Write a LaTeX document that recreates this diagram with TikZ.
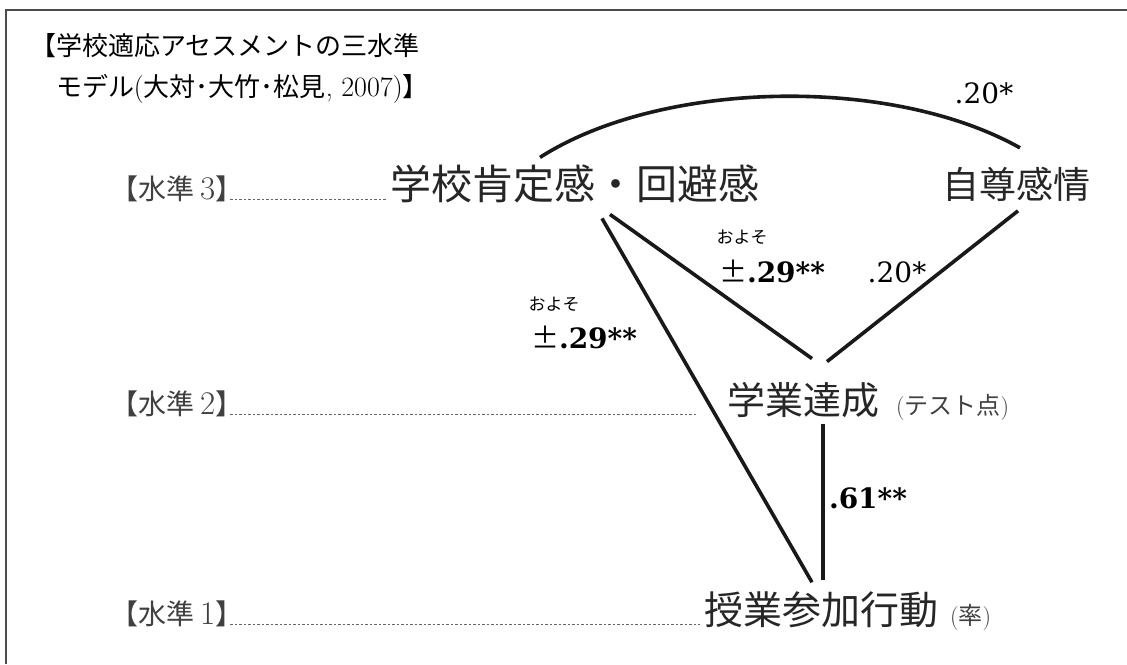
\documentclass[tikz,border=0pt]{standalone}
\usepackage{fontspec}
\newfontfamily\cjk{Noto Sans CJK JP}
\newfontfamily\numfont{DejaVu Serif}
\usetikzlibrary{calc}
\newcommand{\fsz}[1]{\fontsize{#1}{#1}\selectfont}
\begin{document}
\begin{tikzpicture}[x=1pt,y=-1pt,
  lbl/.style={inner sep=0pt, outer sep=0pt},
  mainlbl/.style={lbl, anchor=base, text=black!85},
  levellbl/.style={lbl, anchor=base, font=\cjk\fsz{28}, text=black!75},
  sublbl/.style={lbl, anchor=base west, font=\cjk\fsz{24}, text=black!75},
  coef/.style={lbl, anchor=base, font=\numfont\bfseries\fsz{28}},
  coefreg/.style={lbl, anchor=base, font=\numfont\fsz{28}},
  approx/.style={lbl, font=\cjk\fsz{17}},
  conn/.style={line width=3.6pt, black!90},
  guide/.style={line width=0.9pt, black!60, dash pattern=on 2.5pt off 2pt},
  frameline/.style={line width=2pt, black!70}
]
\useasboundingbox (0,0) rectangle (1127,664);
\fill[white] (0,0) rectangle (1127,664);
\draw[frameline] (6,664) -- (6,10) -- (1127,10);

% title
\node[lbl, anchor=west, align=left, font=\cjk\fontsize{26}{41}\selectfont] (title) at (30,68.5)
  {【学校適応アセスメントの三水準\\\hspace*{1em}モデル{\rmfamily\fontsize{28}{41}\selectfont(}大対･大竹･松見{\rmfamily\fontsize{28}{41}\selectfont, 2007)}】};

% main labels
\node[mainlbl, font=\cjk\fsz{41}] (sch) at (575,199) {学校肯定感・回避感};
\node[mainlbl, font=\cjk\fsz{37}] (se) at (1016,198) {自尊感情};
\node[mainlbl, font=\cjk\fsz{38}] (ach) at (803,414) {学業達成};
\node[sublbl] (achsub) at ([xshift=17pt]ach.base east) {{\rmfamily(}テスト点{\rmfamily)}};
\node[mainlbl, font=\cjk\fsz{39}] (part) at (821,624) {授業参加行動};
\node[sublbl] (partsub) at ([xshift=12pt]part.base east) {{\rmfamily(}率{\rmfamily)}};

% level labels
\node[levellbl] (lv3) at (177,199) {【水準{\rmfamily\fsz{33}\,3}】};
\node[levellbl] (lv2) at (177,414) {【水準{\rmfamily\fsz{33}\,2}】};
\node[levellbl] (lv1) at (177,624) {【水準{\rmfamily\fsz{33}\,1}】};

% guide lines
\draw[guide] ([xshift=-13pt]lv3.base east) -- ([xshift=-3pt]sch.base west);
\draw[guide] ([xshift=-13pt]lv2.base east) -- ([xshift=-30pt]ach.base west);
\draw[guide] ([xshift=-13pt]lv1.base east) -- ([xshift=-4pt]part.base west);

% connectors
\draw[conn] ($(sch.center)+(-35,-26)$) .. controls ($(sch.center)+(85,-103)$) and ($(se.center)+(-126,-109)$) .. ($(se.center)+(4,-36)$);
\draw[conn] ($(sch.center)+(35,31)$) -- ($(ach.center)+(9,-41)$);
\draw[conn] ($(sch.center)+(27,35)$) -- ($(part.center)+(-9,-27)$);
\draw[conn] ($(se.center)+(2,27)$) -- ($(ach.center)+(24,-38)$);
\draw[conn] ($(ach.center)+(20,24)$) -- ($(part.center)+(2,-29)$);

% coefficients
\node[coefreg] (c1) at (984,103) {.20*};
\node[approx] (a1) at (742,237) {およそ};
\node[coef] (c2) at (772,282) {{\cjk\mdseries ±}.29**};
\node[approx] (a2) at (554,304) {およそ};
\node[coef] (c3) at (584,348) {{\cjk\mdseries ±}.29**};
\node[coefreg] (c4) at (897,282) {.20*};
\node[coef] (c5) at (868,508) {.61**};
\end{tikzpicture}
\end{document}
